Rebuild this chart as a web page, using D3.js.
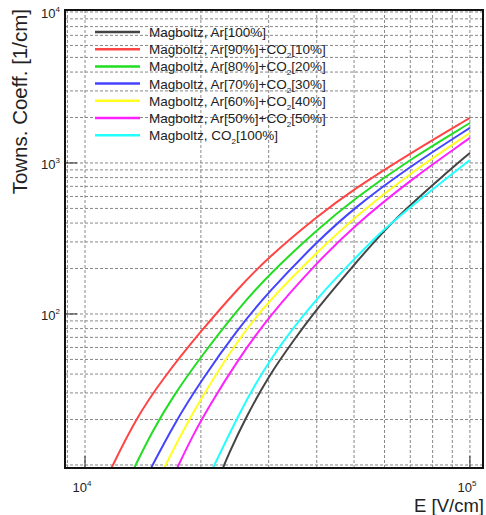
<!DOCTYPE html>
<meta charset="utf-8">
<style>
  body { margin: 0; background: #fff; }
  text { font-family: "Liberation Sans", Arial, sans-serif; fill: #222; }
  .grid line { stroke: #888; stroke-width: 1; stroke-dasharray: 3,2; }
  .curve { fill: none; stroke-width: 2px; stroke-linejoin: round; }
</style>
<body>
<script src="https://d3js.org/d3.v7.min.js"></script>
<script>
// series names and colours (legend order)
var names = [
  ["Magboltz, Ar[100%]"],
  ["Magboltz, Ar[90%]+CO", "2", "[10%]"],
  ["Magboltz, Ar[80%]+CO", "2", "[20%]"],
  ["Magboltz, Ar[70%]+CO", "2", "[30%]"],
  ["Magboltz, Ar[60%]+CO", "2", "[40%]"],
  ["Magboltz, Ar[50%]+CO", "2", "[50%]"],
  ["Magboltz, CO", "2", "[100%]"]
];
var colors = ["#444444", "#ff4444", "#22dd22", "#4444ff", "#ffff22", "#ff22ff", "#22ffff"];

// [E (V/cm), Townsend coeff (1/cm)]
var ar100 = [[22800, 9.5], [23500, 11.5], [26000, 20], [30000, 39], [35000, 68], [40000, 108],
             [50000, 212], [60000, 360], [70000, 527], [85000, 820], [100000, 1165]];
var ar90  = [[11700, 9.5], [13500, 20], [16000, 38], [20000, 77], [25000, 148], [30000, 238],
             [40000, 441], [50000, 673], [70000, 1160], [100000, 1990]];
var ar80  = [[13400, 9.5], [15000, 17], [17000, 29], [20000, 52], [25000, 108], [30000, 182],
             [40000, 360], [50000, 578], [70000, 1060], [100000, 1840]];
var ar70  = [[14830, 9.5], [17000, 18.5], [20000, 36], [25000, 80], [30000, 140], [40000, 300],
             [50000, 504], [70000, 952], [100000, 1707]];
var ar60  = [[16030, 9.5], [18000, 17], [20000, 27.5], [25000, 68], [30000, 122], [40000, 255],
             [50000, 435], [70000, 858], [100000, 1580]];
var ar50  = [[17340, 9.5], [19000, 15.5], [21000, 24.5], [25000, 50], [30000, 96], [40000, 218],
             [50000, 383], [70000, 772], [100000, 1465]];
var co2   = [[21480, 9.5], [25000, 21.4], [30000, 50], [40000, 128], [50000, 230], [58300, 344],
             [70000, 511], [100000, 1047]];
var allSeries = [ar100, ar90, ar80, ar70, ar60, ar50, co2];

var xTicks = [1e4, 1e5];
var yTicks = [1e2, 1e3, 1e4];
var xExp = ["4", "5"];
var yExp = ["2", "3", "4"];

(function() {
var W = 486, H = 515;
var mL = 65, mR = 483, mT = 10, mB = 468;

var svg = d3.select("body").append("svg").attr("width", W).attr("height", H);

// log scales, 10^4 at x=85, 10^5 at x=470; 10^3 at y=163, 10^2 at y=314
var x = d3.scaleLog().domain([Math.pow(10, 3.948), Math.pow(10, 5.034)]).range([mL, mR]);
var y = d3.scaleLog().domain([Math.pow(10, 0.98), Math.pow(10, 4.013)]).range([mB, mT]);

// grid
var xGrid = [9000, 1e4];
for (var k = 2; k <= 10; k++) xGrid.push(k * 1e4);
xGrid = xGrid.filter(function(v) { return x(v) > mL + 1 && x(v) < mR - 1; });
var yGrid = [];
[10, 100, 1000].forEach(function(d) { for (var k = 1; k <= 9; k++) yGrid.push(d * k); });
yGrid.push(1e4);
yGrid = yGrid.filter(function(v) { return y(v) > mT + 1 && y(v) < mB - 1; });

var grid = svg.append("g").attr("class", "grid");
grid.selectAll(".gx").data(xGrid).enter().append("line")
  .attr("x1", function(d) { return x(d); }).attr("x2", function(d) { return x(d); })
  .attr("y1", mT).attr("y2", mB);
grid.selectAll(".gy").data(yGrid).enter().append("line")
  .attr("y1", function(d) { return y(d); }).attr("y2", function(d) { return y(d); })
  .attr("x1", mL).attr("x2", mR);

// curves
svg.append("clipPath").attr("id", "clip").append("rect")
  .attr("x", mL).attr("y", mT).attr("width", mR - mL).attr("height", mB - mT);

var line = d3.line()
  .curve(d3.curveBasis)
  .x(function(d) { return x(d[0]); })
  .y(function(d) { return y(d[1]); });

svg.append("g").attr("clip-path", "url(#clip)")
  .selectAll("path").data(allSeries).enter().append("path")
  .attr("class", "curve")
  .attr("d", line)
  .style("stroke", function(d, i) { return colors[i]; });

// frame and ticks
svg.append("rect").attr("x", mL).attr("y", mT).attr("width", mR - mL).attr("height", mB - mT)
  .attr("fill", "none").attr("stroke", "#111").attr("stroke-width", 2);

svg.append("g").selectAll("line").data(xTicks).enter().append("line")
  .attr("x1", function(d) { return x(d); }).attr("x2", function(d) { return x(d); })
  .attr("y1", mB).attr("y2", mB - 12).attr("stroke", "#222");
svg.append("g").selectAll("line").data(yTicks.filter(function(v) { return y(v) > mT + 2; })).enter().append("line")
  .attr("y1", function(d) { return y(d); }).attr("y2", function(d) { return y(d); })
  .attr("x1", mL).attr("x2", mL + 12).attr("stroke", "#222");

// tick labels
var xl = svg.append("g").selectAll("text").data(xTicks).enter().append("text")
  .attr("x", function(d) { return x(d) - 3; }).attr("y", 492)
  .attr("text-anchor", "middle").style("font-size", "13px");
xl.append("tspan").text("10");
xl.append("tspan").attr("dy", -6).style("font-size", "8px").text(function(d, i) { return xExp[i]; });

var yl = svg.append("g").selectAll("text").data(yTicks).enter().append("text")
  .attr("x", 60).attr("y", function(d) { return y(d) + 6; })
  .attr("text-anchor", "end").style("font-size", "13px");
yl.append("tspan").text("10");
yl.append("tspan").attr("dy", -6).style("font-size", "8px").text(function(d, i) { return yExp[i]; });

// axis titles
svg.append("text").attr("x", 484).attr("y", 512).attr("text-anchor", "end")
  .style("font-size", "18.5px").text("E [V/cm]");
svg.append("text").attr("transform", "translate(27,9) rotate(-90)").attr("text-anchor", "end")
  .style("font-size", "20.5px").text("Towns. Coeff. [1/cm]");

// legend
var leg = svg.append("g").selectAll("g").data(names).enter().append("g")
  .attr("transform", function(d, i) { return "translate(95," + (32 + i * 17.2) + ")"; });
leg.append("line").attr("x1", 0).attr("x2", 45).attr("y1", 0).attr("y2", 0)
  .attr("stroke-width", 2.5).attr("stroke", function(d, i) { return colors[i]; });
var lt = leg.append("text").attr("x", 54).attr("y", 5).style("font-size", "13.5px");
lt.append("tspan").text(function(d) { return d[0]; });
lt.append("tspan").attr("dy", 4).style("font-size", "8px").text(function(d) { return d[1] || ""; });
lt.append("tspan").attr("dy", -4).text(function(d) { return d[2] || ""; });
})();
</script>
</body>
